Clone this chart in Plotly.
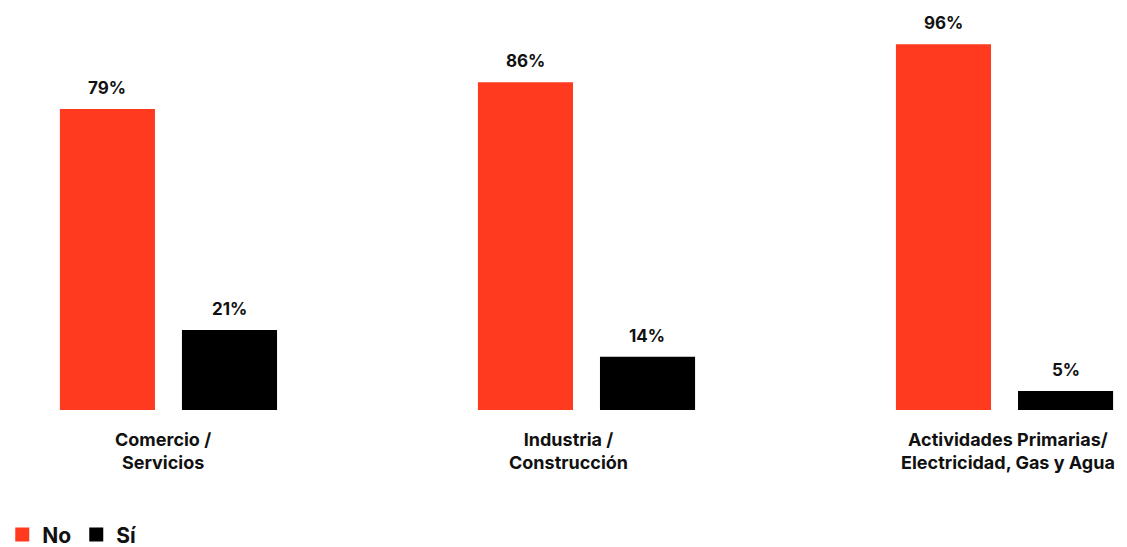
import plotly.graph_objects as go

sectores = ["Comercio / Servicios", "Industria / Construcción",
            "Actividades Primarias/ Electricidad, Gas y Agua"]
etiquetas = ["Comercio /<br>Servicios",
             "Industria /<br>Construcción",
             "Actividades Primarias/<br>Electricidad, Gas y Agua"]
series = ["No", "Sí"]
valores_no = [79, 86, 96]
valores_si = [21, 14, 5]

ROJO = "#FF3A1E"
NEGRO = "#000000"
TEXTO = "#111111"
FUENTE = "Inter, Lato, Roboto, sans-serif"
colores = [ROJO, NEGRO]

fig = go.Figure()
for nombre, valores, color in zip(series, (valores_no, valores_si), colores):
    fig.add_trace(go.Bar(name=nombre, x=sectores, y=valores, marker_color=color,
                         marker_line_width=0, showlegend=False))
# legend entries drawn as larger square markers
for nombre, color in zip(series, colores):
    fig.add_trace(go.Scatter(name=nombre, x=[None], y=[None], mode="markers",
                             marker=dict(symbol="square", size=14, color=color,
                                         line_width=0)))

# percentage labels over each bar (bars sit 61 px either side of the category centre)
anotaciones = []
for valores, desplazamiento in ((valores_no, -61), (valores_si, 61)):
    for cat, v in zip(sectores, valores):
        anotaciones.append(dict(
            x=cat, y=v, xref="x", yref="y", text=f"<b>{v}%</b>",
            showarrow=False, xanchor="center", yanchor="bottom",
            xshift=desplazamiento, yshift=9,
            font=dict(family=FUENTE, size=17, color=TEXTO)))

# two-line category labels under each group
ajuste_x = [-5, -18, 3]
for cat, texto, dx in zip(sectores, etiquetas, ajuste_x):
    anotaciones.append(dict(
        x=cat, y=0, xref="x", yref="paper", text=f"<b>{texto}</b>",
        showarrow=False, xanchor="center", yanchor="top", align="center",
        xshift=dx, yshift=-17,
        font=dict(family=FUENTE, size=18, color=TEXTO)))

fig.update_layout(
    width=1127, height=547,
    margin=dict(l=0, r=0, t=29, b=137, autoexpand=False),
    plot_bgcolor="white", paper_bgcolor="white",
    barmode="group", bargap=0.416, bargroupgap=0.221,
    font=dict(family=FUENTE, color=TEXTO),
    xaxis=dict(range=[-0.403, 2.293], showgrid=False, showline=False,
               ticks="", showticklabels=False),
    yaxis=dict(range=[0, 100], visible=False),
    legend=dict(orientation="h", x=0.002, xanchor="left", y=-0.328, yanchor="middle",
                font=dict(family=FUENTE, size=21, color=TEXTO, weight="bold"),
                itemwidth=30, traceorder="normal"),
    annotations=anotaciones,
)

fig.write_html("out.html")
